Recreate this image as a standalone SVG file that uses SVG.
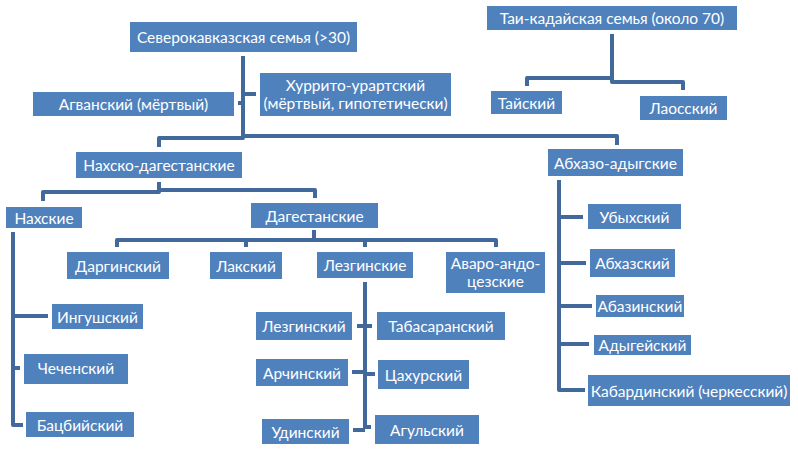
<svg xmlns="http://www.w3.org/2000/svg" width="798" height="450" viewBox="0 0 798 450">
<style>
.b{fill:#4F81BD}
.t{fill:#FFFFFF;font-family:Lato,"Noto Sans","Liberation Sans",sans-serif;font-size:15.5px;text-anchor:middle;dominant-baseline:central}
.c path{fill:none;stroke:#41699B;stroke-width:4;stroke-linejoin:round}
</style>
<rect width="798" height="450" fill="#FFFFFF"/>
<g class="c" id="connectors">
<path d="M243,56 V138 H159 V147"/>
<path d="M245,136 H617 V145"/>
<path d="M243,94 H256"/>
<path d="M238,103 H243"/>
<path d="M159,182 V192 H43 V201"/>
<path d="M159,190 H315 V198"/>
<path d="M13,232 V425 H23"/>
<path d="M13,316 H48"/>
<path d="M13,368 H20"/>
<path d="M314,230 V240"/>
<path d="M117,247 V240 H496 V247"/>
<path d="M246,240 V247"/>
<path d="M365,240 V247"/>
<path d="M365,282 V429"/>
<path d="M353,430 H365"/>
<path d="M365,427 H371"/>
<path d="M357,326 H372"/>
<path d="M352,372 H365"/>
<path d="M365,374 H375"/>
<path d="M612,34 V82 H683 V90"/>
<path d="M612,78 H527 V86"/>
<path d="M559,180 V390 H585"/>
<path d="M559,217 H583"/>
<path d="M559,263 H586"/>
<path d="M559,306 H592"/>
<path d="M559,344 H589"/>
</g>
<g id="sev"><rect class="b" x="130" y="22" width="227" height="30"/><text class="t" x="243.5" y="37">Северокавказская семья (&gt;30)</text></g>
<g id="taikad"><rect class="b" x="487" y="6" width="250" height="24"/><text class="t" x="612" y="18">Таи-кадайская семья (около 70)</text></g>
<g id="hurr"><rect class="b" x="260" y="73" width="191" height="43"/><text class="t" x="355.5" y="85">Хуррито-урартский</text><text class="t" x="355.5" y="103">(мёртвый, гипотетически)</text></g>
<g id="agv"><rect class="b" x="33" y="92" width="201" height="24"/><text class="t" x="133.5" y="104">Агванский (мёртвый)</text></g>
<g id="thai"><rect class="b" x="491" y="91" width="71" height="23"/><text class="t" x="526.5" y="102.5">Тайский</text></g>
<g id="lao"><rect class="b" x="640" y="96" width="87" height="24"/><text class="t" x="683.5" y="108">Лаосский</text></g>
<g id="nakhdag"><rect class="b" x="76" y="152" width="166" height="26"/><text class="t" x="159" y="165">Нахско-дагестанские</text></g>
<g id="abkhad"><rect class="b" x="548" y="149" width="135" height="27"/><text class="t" x="615.5" y="162.5">Абхазо-адыгские</text></g>
<g id="nakh"><rect class="b" x="6" y="207" width="76" height="21"/><text class="t" x="44" y="217.5">Нахские</text></g>
<g id="dag"><rect class="b" x="251" y="203" width="127" height="25"/><text class="t" x="314.5" y="215.5">Дагестанские</text></g>
<g id="darg"><rect class="b" x="67" y="252" width="102" height="27"/><text class="t" x="118" y="265.5">Даргинский</text></g>
<g id="lak"><rect class="b" x="210" y="252" width="72" height="27"/><text class="t" x="246" y="265.5">Лакский</text></g>
<g id="lezgins"><rect class="b" x="317" y="252" width="96" height="26"/><text class="t" x="365" y="265">Лезгинские</text></g>
<g id="avar"><rect class="b" x="446" y="252" width="99" height="41"/><text class="t" x="495.5" y="263">Аваро-андо-</text><text class="t" x="495.5" y="281">цезские</text></g>
<g id="ing"><rect class="b" x="52" y="304" width="91" height="25"/><text class="t" x="97.5" y="316.5">Ингушский</text></g>
<g id="chech"><rect class="b" x="24" y="354" width="104" height="30"/><text class="t" x="76" y="368">Чеченский</text></g>
<g id="bacb"><rect class="b" x="26" y="412" width="108" height="25"/><text class="t" x="80" y="424.5">Бацбийский</text></g>
<g id="lezgin"><rect class="b" x="256" y="312" width="96" height="28"/><text class="t" x="304" y="326">Лезгинский</text></g>
<g id="tabas"><rect class="b" x="377" y="312" width="128" height="28"/><text class="t" x="441" y="326">Табасаранский</text></g>
<g id="archi"><rect class="b" x="256" y="359" width="92" height="27"/><text class="t" x="302" y="372.5">Арчинский</text></g>
<g id="tsakh"><rect class="b" x="378" y="360" width="91" height="29"/><text class="t" x="423.5" y="374.5">Цахурский</text></g>
<g id="udi"><rect class="b" x="262" y="419" width="87" height="25"/><text class="t" x="305.5" y="431.5">Удинский</text></g>
<g id="agul"><rect class="b" x="375" y="415" width="104" height="29"/><text class="t" x="427" y="429.5">Агульский</text></g>
<g id="ubykh"><rect class="b" x="588" y="204" width="93" height="25"/><text class="t" x="634.5" y="216.5">Убыхский</text></g>
<g id="abkhaz"><rect class="b" x="590" y="249" width="85" height="28"/><text class="t" x="632.5" y="263">Абхазский</text></g>
<g id="abaza"><rect class="b" x="596" y="295" width="88" height="22"/><text class="t" x="640" y="306">Абазинский</text></g>
<g id="adyg"><rect class="b" x="594" y="335" width="97" height="20"/><text class="t" x="642.5" y="345">Адыгейский</text></g>
<g id="kabard"><rect class="b" x="588" y="375" width="202" height="31"/><text class="t" x="689" y="390.5">Кабардинский (черкесский)</text></g>
</svg>
